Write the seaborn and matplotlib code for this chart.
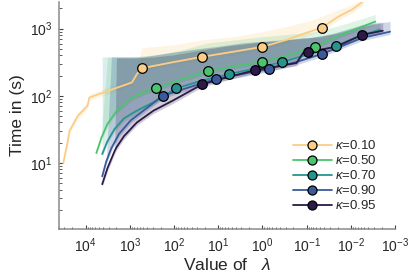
import numpy as np
import pandas as pd
import matplotlib.pyplot as plt
from matplotlib.lines import Line2D
import seaborn as sns

# ---- dados ----
kappas = ['0.10', '0.50', '0.70', '0.90', '0.95']
cores = ['#fccd87', '#4cc46e', '#26958f', '#3a5a9b', '#2b1a4a']

# kappa = 0.10
lam_010 = [3.2e4, 2.6e4, 2.3e4, 1.5e4, 9.0e3, 8.2e3, 2.9e3, 8.9e2, 6.9e2, 5.4e2,
           1.0e2, 23, 4.8, 1.0, 0.29, 0.10, 0.045, 0.019, 0.0092, 0.0052]
t_010 = [9.9, 19, 30, 50, 71, 94, 120, 158, 210, 257,
         318, 380, 450, 535, 680, 870, 1035, 1515, 1940, 2560]
sup_010 = [11.2, 21.5, 33.5, 56, 80, 106, 136, 180, 230, 517,
           574, 680, 757, 900, 1072, 1274, 1517, 1934, 2300, 2740]
inf_010 = [8.8, 17, 27, 45, 64, 85, 108, 141, 188, 230,
           285, 340, 400, 480, 605, 775, 920, 1350, 1720, 2270]
marc_010 = [9, 11, 13, 16]

# kappa = 0.50
lam_050 = [5.7e3, 4.4e3, 3.2e3, 1.95e3, 9.5e2, 4.9e2, 2.6e2, 66, 16.6, 4.1,
           1.0, 0.17, 0.065, 0.022, 0.0055, 0.0028]
t_050 = [14, 23.5, 38, 60, 91, 112, 129, 177, 233, 277,
         318, 435, 535, 757, 1072, 1274]
sup_050 = [15, 26, 378, 378, 378, 392, 405, 482, 615, 682,
           757, 841, 900, 1072, 1415, 1625]
inf_050 = [12.7, 21.4, 34.5, 54.5, 83, 102, 117, 161, 212, 252,
           289, 395, 486, 688, 975, 1158]
marc_050 = [6, 8, 10, 12]

# kappa = 0.70
lam_070 = [4.2e3, 3.2e3, 2.2e3, 1.35e3, 6.9e2, 2.9e2, 89, 22, 5.6, 1.4,
           0.355, 0.087, 0.022, 0.0071, 0.0022]
t_070 = [13.5, 21, 32, 46, 60, 80, 129, 170, 210, 258,
         318, 420, 550, 757, 965]
sup_070 = [378, 378, 378, 378, 378, 405, 450, 517, 574, 637,
           659, 731, 870, 1072, 1274]
inf_070 = [12.3, 19.1, 29, 42, 54.5, 73, 117, 155, 191, 235,
           289, 382, 500, 688, 877]
marc_070 = [6, 8, 10, 12]

# kappa = 0.90
lam_090 = [4.2e3, 3.4e3, 2.6e3, 1.75e3, 9.5e2, 4.9e2, 1.8e2, 46, 11.5, 2.9,
           0.72, 0.17, 0.045, 0.0055, 0.0013]
t_090 = [6.3, 10.5, 16.6, 27, 43, 60, 100, 133, 177, 210,
         251, 318, 420, 730, 900]
sup_090 = [6.3, 10.5, 378, 378, 378, 378, 420, 482, 535, 615,
           659, 706, 757, 1150, 1274]
inf_090 = [5.7, 9.5, 15.1, 24.5, 39, 54.5, 91, 121, 161, 191,
           228, 289, 382, 664, 818]
marc_090 = [6, 8, 10, 12]

# kappa = 0.95
lam_095 = [4.2e3, 3.2e3, 2.2e3, 2.0e3, 1.35e3, 6.9e2, 2.9e2, 1.05e2, 23, 5.9,
           1.5, 0.17, 0.12, 0.093, 0.022, 0.0055, 0.0019]
t_095 = [4.8, 8.3, 15, 17, 25, 40, 60, 85, 148, 190,
         240, 307, 435, 450, 535, 810, 930]
sup_095 = [4.8, 8.3, 15, 366, 366, 366, 378, 405, 482, 555,
           615, 706, 731, 731, 841, 1072, 1230]
inf_095 = [4.4, 7.5, 13.6, 15.5, 22.7, 36.4, 54.5, 77, 135, 173,
           218, 279, 395, 409, 486, 736, 845]
marc_095 = [8, 10, 13, 15]

series = [
    (lam_010, t_010, inf_010, sup_010, marc_010, 0.22),
    (lam_050, t_050, inf_050, sup_050, marc_050, 0.18),
    (lam_070, t_070, inf_070, sup_070, marc_070, 0.16),
    (lam_090, t_090, inf_090, sup_090, marc_090, 0.24),
    (lam_095, t_095, inf_095, sup_095, marc_095, 0.22),
]

# ---- estilo ----
sns.set_style('ticks')
plt.rcParams['font.family'] = ['Liberation Sans', 'DejaVu Sans']
plt.rcParams['mathtext.fontset'] = 'custom'
plt.rcParams['mathtext.rm'] = 'Liberation Sans'
plt.rcParams['mathtext.it'] = 'Liberation Sans:italic'
plt.rcParams['axes.unicode_minus'] = False

fig = plt.figure(figsize=(4.15, 2.76), dpi=100)
ax = fig.add_axes([0.142, 0.170, 0.810, 0.823])

for (lam, t, inf, sup, marc, alfa), cor in zip(series, cores):
    lam = np.array(lam)
    t = np.array(t)
    ax.fill_between(lam, inf, sup, color=cor, alpha=alfa, linewidth=0, zorder=1)
    sns.lineplot(x=lam, y=t, color=cor, sort=False, estimator=None,
                 linewidth=1.3, ax=ax, zorder=2)

# marcadores por cima de tudo
for (lam, t, inf, sup, marc, alfa), cor in zip(series, cores):
    df = pd.DataFrame({'lam': np.array(lam)[marc], 't': np.array(t)[marc]})
    sns.scatterplot(data=df, x='lam', y='t', color=cor, edgecolor='black',
                    linewidth=0.9, s=48, ax=ax, zorder=5)

ax.set_xscale('log')
ax.set_yscale('log')
ax.set_xlim(4e4, 1e-3)
ax.set_ylim(1.03, 2500)

sns.despine(ax=ax)
for lado in ['left', 'bottom']:
    ax.spines[lado].set_color('#8a8a8a')
    ax.spines[lado].set_linewidth(1.1)
ax.tick_params(which='both', direction='in', color='#404040', labelsize=10,
               labelcolor='#262626')
ax.tick_params(which='major', length=3, width=0.8, pad=5)
ax.tick_params(which='minor', length=1.8, width=0.6)

ax.set_xlabel('Value of   $\\lambda$', fontsize=12.5, color='#262626', labelpad=2)
ax.set_ylabel('Time in (s)', fontsize=12.5, color='#262626', labelpad=3)

handles = [Line2D([], [], color=c, linewidth=1.3, marker='o', markersize=6.5,
                  markerfacecolor=c, markeredgecolor='black', markeredgewidth=0.9)
           for c in cores]
labels = ['$\\kappa$=' + k for k in kappas]
ax.legend(handles, labels, loc='upper left', bbox_to_anchor=(0.695, 0.395),
          frameon=False, fontsize=9.5, handlelength=3.0, handletextpad=0.25,
          labelspacing=0.15, borderpad=0, borderaxespad=0, numpoints=1)

plt.savefig('out.png', dpi=100)
